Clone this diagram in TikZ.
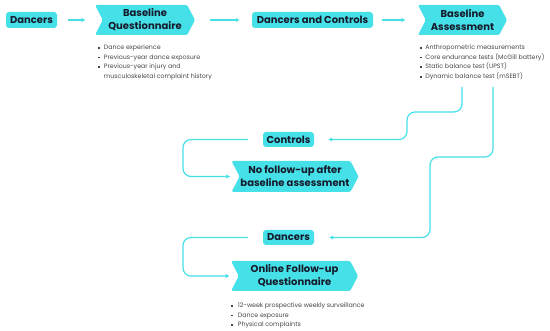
\documentclass[tikz,border=0pt]{standalone}
\usepackage{fontspec}
\setmainfont{Poppins}
\usetikzlibrary{arrows.meta,positioning,shapes.symbols,calc}
\definecolor{ink}{HTML}{161A2B}
\definecolor{aqua}{HTML}{45E0E8}
\definecolor{gray}{HTML}{474747}
\newcommand{\sqbullet}{\rule[0.9pt]{1.7pt}{1.7pt}}
\tikzset{
  tag/.style={fill=aqua, rounded corners=3pt, inner sep=0pt, minimum height=16pt, font=\bfseries\fontsize{10}{12}\selectfont, text=ink},
  stage/.style={signal, signal from=west, signal to=east, signal pointer angle=125, fill=aqua, rounded corners=1.5pt, inner sep=0pt, minimum height=30pt, align=center, font=\bfseries\fontsize{10}{13}\selectfont, text=ink},
  items/.style={inner sep=0pt, anchor=north west, font=\fontsize{6.3}{9.7}\selectfont, text=gray},
  link/.style={-{Latex[length=4pt,width=4.5pt]}, line width=1.2pt, draw=aqua, rounded corners=8pt}
}

\begin{document}
\begin{tikzpicture}[x=1pt, y=-1pt]
\useasboundingbox (0,0) rectangle (550,331);
\node[tag, minimum width=51pt] (dan) at (31.5,20) {Dancers};
\node[stage, minimum width=100pt] (quest) at (145,20) {Baseline\\Questionnaire};
\node[tag, minimum width=121pt] (dc) at (312.5,20) {Dancers and Controls};
\node[stage, minimum width=89pt] (assess) at (462.5,20) {Baseline\\Assessment};
\node[items] (questlist) at (98,42.5) {\begin{tabular}{@{}l@{\hspace{4pt}}l@{}}
\sqbullet & Dance experience\\
\sqbullet & Previous-year dance exposure\\
\sqbullet & Previous-year injury and\\
 & musculoskeletal complaint history
\end{tabular}};
\node[items] (assesslist) at (420,42.5) {\begin{tabular}{@{}l@{\hspace{3.5pt}}l@{}}
\sqbullet & Anthropometric measurements\\
\sqbullet & Core endurance tests (McGill battery)\\
\sqbullet & Static balance test (UPST)\\
\sqbullet & Dynamic balance test (mSEBT)
\end{tabular}};
\node[tag, minimum width=51pt, minimum height=15pt] (ctrl) at (288.5,139.5) {Controls};
\node[stage, minimum width=127pt, minimum height=31pt] (nofu) at (295,176.5) {No follow-up after\\baseline assessment};
\node[tag, minimum width=51pt, minimum height=15pt] (dan2) at (288.5,237.5) {Dancers};
\node[stage, minimum width=127pt] (onfu) at (294.5,276) {Online Follow-up\\Questionnaire};
\node[items] (onfulist) at (231,300.5) {\begin{tabular}{@{}l@{\hspace{5pt}}l@{}}
\sqbullet & 12-week prospective weekly surveillance\\
\sqbullet & Dance exposure\\
\sqbullet & Physical complaints
\end{tabular}};
% top row
\draw[link, shorten <=11pt, shorten >=17pt] (dan.east) -- (quest.west);
\draw[link, shorten <=15pt, shorten >=12pt] (quest.east) -- (dc.west);
\draw[link, shorten <=9pt, shorten >=20pt] (dc.east) -- (assess.west);
% split after baseline assessment
\coordinate (drop1) at (462,87);
\coordinate (knee1) at (407,112);
\draw[link, shorten >=14pt] (drop1) |- (knee1) |- (ctrl.east);
\coordinate (drop2) at (493,87);
\coordinate (knee2) at (430,157);
\draw[link, shorten >=15pt] (drop2) |- (knee2) |- (dan2.east);
\coordinate (loop1) at (183,176.5);
\draw[link, shorten <=15pt, shorten >=9pt] (ctrl.west) -| (loop1) -- (nofu.west);
\coordinate (loop2) at (183,276);
\draw[link, shorten <=15pt, shorten >=9pt] (dan2.west) -| (loop2) -- (onfu.west);
\end{tikzpicture}
\end{document}
